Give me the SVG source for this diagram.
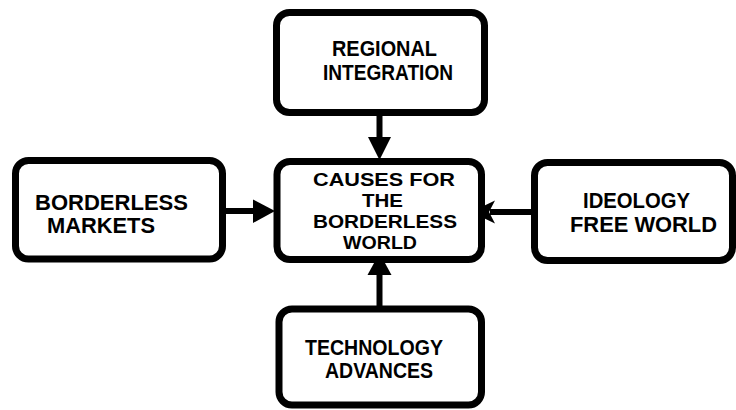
<svg xmlns="http://www.w3.org/2000/svg" width="736" height="410" viewBox="0 0 736 410">
<style>
.box{fill:#fff;stroke:#000;stroke-width:7;}
.t{font-family:"Liberation Sans",Arial,sans-serif;font-weight:bold;font-size:22px;fill:#000;}
.c{font-size:18.5px;}
.ln{stroke:#000;stroke-width:6;fill:none;}
.hd{fill:#000;stroke:none;}
</style>
<rect width="736" height="410" fill="#fff"/>
<g id="connectors">
<line class="ln" x1="379.5" y1="115" x2="379.5" y2="140"/>
<polygon class="hd" points="368,137 391,137 379.5,160"/>
<line class="ln" x1="225" y1="211" x2="256" y2="211"/>
<polygon class="hd" points="253,199.5 253,223 275,211"/>
<line class="ln" x1="532" y1="212" x2="490" y2="212"/>
<polygon class="hd" points="471,212 495,200.5 489,212 495,223.5"/>
<line class="ln" x1="379.5" y1="308" x2="379.5" y2="272"/>
<polygon class="hd" points="367.5,275 391.5,275 379.5,253"/>
</g>
<g id="regional">
<rect class="box" x="276.5" y="12.5" width="208" height="100" rx="13"/>
<text class="t" x="332" y="56" textLength="105" lengthAdjust="spacingAndGlyphs">REGIONAL</text>
<text class="t" x="323" y="80" textLength="130" lengthAdjust="spacingAndGlyphs">INTEGRATION</text>
</g>
<g id="center">
<rect class="box" x="277" y="161.5" width="204.5" height="98" rx="13"/>
<text class="t c" x="313" y="186" textLength="142" lengthAdjust="spacingAndGlyphs">CAUSES FOR</text>
<text class="t c" x="362" y="207" textLength="41" lengthAdjust="spacingAndGlyphs">THE</text>
<text class="t c" x="313" y="228" textLength="144" lengthAdjust="spacingAndGlyphs">BORDERLESS</text>
<text class="t c" x="343" y="249" textLength="74" lengthAdjust="spacingAndGlyphs">WORLD</text>
</g>
<g id="markets">
<rect class="box" x="15.5" y="160.5" width="207" height="98.5" rx="13"/>
<text class="t" x="35" y="210" textLength="153" lengthAdjust="spacingAndGlyphs">BORDERLESS</text>
<text class="t" x="47" y="233" textLength="108" lengthAdjust="spacingAndGlyphs">MARKETS</text>
</g>
<g id="ideology">
<rect class="box" x="534.5" y="162.5" width="198" height="98" rx="13"/>
<text class="t" x="583" y="208" textLength="107" lengthAdjust="spacingAndGlyphs">IDEOLOGY</text>
<text class="t" x="570" y="232" textLength="147" lengthAdjust="spacingAndGlyphs">FREE WORLD</text>
</g>
<g id="technology">
<rect class="box" x="279" y="309" width="202.5" height="96" rx="13"/>
<text class="t" x="305" y="355" textLength="138" lengthAdjust="spacingAndGlyphs">TECHNOLOGY</text>
<text class="t" x="325" y="378" textLength="108" lengthAdjust="spacingAndGlyphs">ADVANCES</text>
</g>
</svg>
